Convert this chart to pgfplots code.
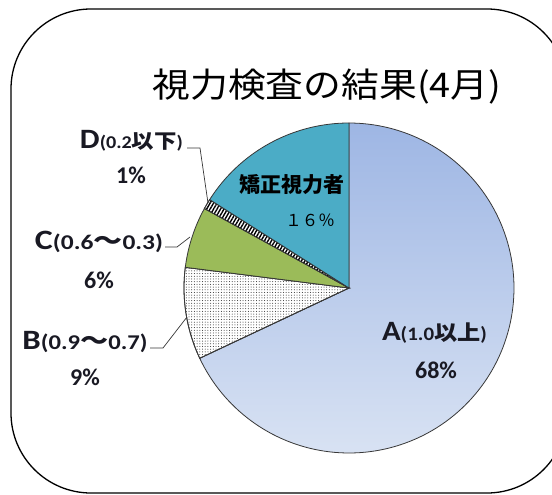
\documentclass[border=0pt]{standalone}
\usepackage{pgfplots}
\pgfplotsset{compat=1.18}
\usepackage{fontspec}
\usepackage{graphicx}
\setmainfont{Carlito}
\newfontfamily\jp{Noto Sans CJK JP}
\usetikzlibrary{patterns,patterns.meta}
\definecolor{ablueT}{RGB}{158,182,228}
\definecolor{ablueB}{RGB}{216,226,243}
\definecolor{eteal}{RGB}{75,172,198}
\definecolor{cgreen}{RGB}{155,187,89}
\definecolor{edge}{RGB}{55,55,55}
\definecolor{txt}{RGB}{25,25,35}
% pie values (percent)
\def\vA{68}\def\vB{9}\def\vC{6}\def\vD{1}\def\vE{16}
\pgfmathsetmacro\sA{90}
\pgfmathsetmacro\eA{\sA-3.6*\vA}
\pgfmathsetmacro\eB{\eA-3.6*\vB}
\pgfmathsetmacro\eC{\eB-3.6*\vC}
\pgfmathsetmacro\eD{\eC-3.6*\vD}
\pgfmathsetmacro\eE{\eD-3.6*\vE}
\def\cx{349}\def\cy{288}\def\R{165}
\newcommand\fs[1]{\fontsize{#1}{#1}\selectfont}
\begin{document}
\begin{tikzpicture}
\useasboundingbox (0,0) rectangle (552pt,495pt);
\clip (0,0) rectangle (552pt,495pt);
\begin{axis}[at={(0,0)}, anchor=south west, scale only axis,
  width=552pt, height=495pt, xmin=0, xmax=552, ymin=0, ymax=495,
  y dir=reverse, hide axis, clip=false]
% slices
\addplot[draw=edge, line width=0.8pt, top color=ablueT, bottom color=ablueB, domain=\eA:\sA, samples=140]
  ({\cx+\R*cos(x)},{\cy-\R*sin(x)}) -- (axis cs:\cx,\cy) -- cycle;
\addplot[draw=edge, line width=0.8pt, fill=white, postaction={pattern={Dots[distance=2.7pt, radius=0.5pt]}, pattern color=black!85}, domain=\eB:\eA, samples=30]
  ({\cx+\R*cos(x)},{\cy-\R*sin(x)}) -- (axis cs:\cx,\cy) -- cycle;
\addplot[draw=edge, line width=0.8pt, fill=cgreen, domain=\eC:\eB, samples=30]
  ({\cx+\R*cos(x)},{\cy-\R*sin(x)}) -- (axis cs:\cx,\cy) -- cycle;
\addplot[draw=edge, line width=0.8pt, fill=white, postaction={pattern={Lines[angle=60, distance=3pt, line width=1.4pt]}, pattern color=black}, domain=\eD:\eC, samples=10]
  ({\cx+\R*cos(x)},{\cy-\R*sin(x)}) -- (axis cs:\cx,\cy) -- cycle;
\addplot[draw=edge, line width=0.8pt, fill=eteal, domain=\eE:\eD, samples=60]
  ({\cx+\R*cos(x)},{\cy-\R*sin(x)}) -- (axis cs:\cx,\cy) -- cycle;
% leader lines
\addplot[draw=edge, line width=0.7pt, no marks] coordinates {(187,148) (200,148) (208,203)};
\addplot[draw=edge, line width=0.7pt, no marks] coordinates {(165,247) (177,247) (190,237)};
\addplot[draw=edge, line width=0.7pt, no marks] coordinates {(150,348) (163,348) (187,317)};
% frame
\draw[line width=1.3pt, rounded corners=80pt] (axis cs:11,9) rectangle (axis cs:567,493);
% title
\node[text=black, inner sep=0pt] at (axis cs:327,87) {\resizebox{349pt}{\height}{\jp\fs{34}視力検査の結果(4月)}};
% labels
\node[text=txt, inner sep=0pt] at (axis cs:434.5,333) {\resizebox{105pt}{\height}{\bfseries{\fs{28}A}{\fs{19}(1.0{\jp\fs{21}以上})}}};
\node[text=txt, inner sep=0pt] at (axis cs:436,370) {\bfseries\fs{24}68\%};
\node[text=txt, inner sep=0pt] at (axis cs:131.5,141) {\resizebox{103pt}{\height}{\bfseries{\fs{28}D}{\fs{18}(0.2{\jp\fs{20}以下})}}};
\node[text=txt, inner sep=0pt] at (axis cs:131,175) {\bfseries\fs{24}1\%};
\node[text=txt, inner sep=0pt] at (axis cs:99,242) {\resizebox{128pt}{\height}{\bfseries{\fs{28}C}{\fs{21}(0.6{\jp\fs{24}～}0.3)}}};
\node[text=txt, inner sep=0pt] at (axis cs:99,280) {\bfseries\fs{24}6\%};
\node[text=txt, inner sep=0pt] at (axis cs:85,342) {\resizebox{125pt}{\height}{\bfseries{\fs{28}B}{\fs{21}(0.9{\jp\fs{24}～}0.7)}}};
\node[text=txt, inner sep=0pt] at (axis cs:85,377) {\bfseries\fs{24}9\%};
\node[text=black] at (axis cs:292,185) {\jp\bfseries\fs{21}矯正視力者};
\node[text=black] at (axis cs:310,220) {\jp\fs{16.5}１６％};
\end{axis}
\end{tikzpicture}
\end{document}
